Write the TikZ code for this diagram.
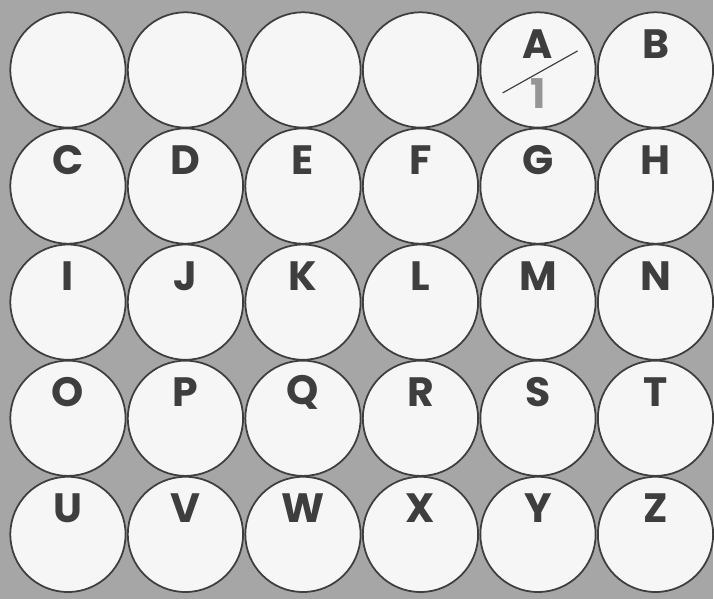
\documentclass[tikz,border=0pt]{standalone}
\usepackage{fontspec}
\setmainfont{Poppins}
\usetikzlibrary{positioning}
\definecolor{paper}{RGB}{166,166,166}
\definecolor{ink}{RGB}{62,62,62}
\definecolor{disk}{RGB}{246,246,246}
\definecolor{pale}{RGB}{150,150,150}
\begin{document}
\begin{tikzpicture}[x=0.03cm,y=-0.03cm,
   disc/.style={circle,draw=ink,fill=disk,line width=1.5pt,minimum size=3.46cm,inner sep=0pt},
   letter/.style={font=\fontsize{35}{35}\selectfont\bfseries,text=ink,inner sep=0pt}]
  \fill[paper] (0,0) rectangle (714,599);
  % grid of discs
  \foreach \r in {1,...,5}
    \foreach \c in {1,...,6}
      \node[disc] (d\r\c) at ({68+117.6*(\c-1)},{70+116.2*(\r-1)}) {};
  % letters
  \foreach \t/\n in {A/15,B/16,C/21,D/22,E/23,F/24,G/25,H/26,
                     I/31,J/32,K/33,L/34,M/35,N/36,O/41,P/42,Q/43,R/44,S/45,T/46,
                     U/51,V/52,W/53,X/54,Y/55,Z/56}
    \node[letter] (t\t) at ([yshift=0.78cm]d\n.center) {\t};
  % worked example in A
  \coordinate (sa) at (503,93);
  \coordinate (sb) at (578,51);
  \node[letter,text=pale] (one) at (539,94) {1};
  \draw[ink,line width=1pt] (sa) -- (sb);
\end{tikzpicture}
\end{document}
